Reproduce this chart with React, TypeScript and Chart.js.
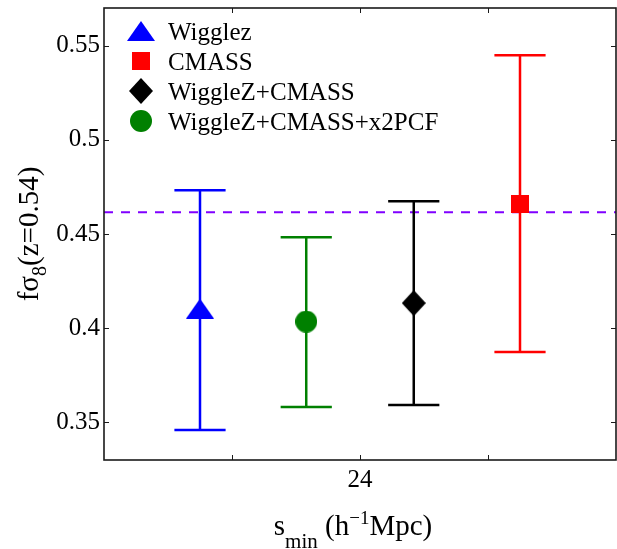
import React, { useEffect, useRef } from 'react';
import { Chart, registerables } from 'chart.js';

Chart.register(...registerables);

// ---------- data ----------
const SERIES_NAMES = ['Wigglez', 'CMASS', 'WiggleZ+CMASS', 'WiggleZ+CMASS+x2PCF'];
const SERIES_X = [22.75, 25.25, 24.42, 23.58];
const SERIES_Y = [0.4104, 0.4661, 0.4133, 0.4035];
const SERIES_LOW = [0.3459, 0.3873, 0.3592, 0.3581];
const SERIES_HIGH = [0.4732, 0.5449, 0.4674, 0.4483];
const SERIES_COLORS = ['#0000ff', '#ff0000', '#000000', '#008000'];
const SERIES_MARKERS = ['triangle', 'square', 'diamond', 'circle'];
const REF_VALUE = 0.4616;
const X_RANGE = [22, 26];
const Y_RANGE = [0.33, 0.57];
const X_TICKS = [23, 24, 25];
const X_TICK_LABELS = ['', '24', ''];
const Y_TICKS = [0.35, 0.4, 0.45, 0.5, 0.55];
const Y_TICK_LABELS = ['0.35', '0.4', '0.45', '0.5', '0.55'];
const CAP_HALF = 0.2; // in x units

const SERIF = "'Liberation Serif', 'Times New Roman', serif";

function makeMarker(kind: string, color: string): HTMLCanvasElement {
  const c = document.createElement('canvas');
  let w = 22, h = 22;
  if (kind === 'triangle') { w = 28; h = 20; }
  else if (kind === 'square') { w = 18; h = 18; }
  else if (kind === 'diamond') { w = 24; h = 26; }
  c.width = w; c.height = h;
  const ctx = c.getContext('2d')!;
  ctx.fillStyle = color;
  ctx.beginPath();
  if (kind === 'triangle') {
    ctx.moveTo(w / 2, 0); ctx.lineTo(w, h); ctx.lineTo(0, h); ctx.closePath();
  } else if (kind === 'square') {
    ctx.rect(0, 0, w, h);
  } else if (kind === 'diamond') {
    ctx.moveTo(w / 2, 0); ctx.lineTo(w, h / 2); ctx.lineTo(w / 2, h); ctx.lineTo(0, h / 2); ctx.closePath();
  } else {
    ctx.arc(w / 2, h / 2, w / 2, 0, Math.PI * 2);
  }
  ctx.fill();
  return c;
}

function drawRich(ctx: CanvasRenderingContext2D, parts: { t: string; size: number; dy: number }[], x0: number, y0: number) {
  let total = 0;
  for (const p of parts) { ctx.font = `${p.size}px ${SERIF}`; total += ctx.measureText(p.t).width; }
  let x = x0 - total / 2;
  for (const p of parts) {
    ctx.font = `${p.size}px ${SERIF}`;
    ctx.fillText(p.t, x, y0 + p.dy);
    x += ctx.measureText(p.t).width;
  }
}

function zeroPadding(s: any) {
  s.paddingTop = 0;
  s.paddingBottom = 0;
  s.paddingLeft = 0;
  s.paddingRight = 0;
}

export default function App() {
  const ref = useRef<HTMLCanvasElement | null>(null);
  useEffect(() => {
    if (!ref.current) return;
    const markers = SERIES_MARKERS.map((m, i) => makeMarker(m, SERIES_COLORS[i]));
    const LINE_INDEX = SERIES_NAMES.length;

    const scatterSets = SERIES_NAMES.map((name, i) => ({
      type: 'scatter' as const,
      label: name,
      data: [{ x: SERIES_X[i], y: SERIES_Y[i] }],
      pointStyle: markers[i] as any,
      pointRadius: 10,
      borderColor: SERIES_COLORS[i],
      backgroundColor: SERIES_COLORS[i],
    }));
    const refSet = {
      type: 'line' as const,
      label: 'ref',
      data: [{ x: X_RANGE[0], y: REF_VALUE }, { x: X_RANGE[1], y: REF_VALUE }],
      borderColor: 'rgb(128,0,255)',
      borderWidth: 2,
      borderDash: [9, 8],
      pointRadius: 0,
      fill: false,
    };

    const errorBars = {
      id: 'errorBars',
      afterDatasetDraw(chart: any, args: any) {
        if (args.index !== LINE_INDEX) return;
        const ctx = chart.ctx as CanvasRenderingContext2D;
        const xs = chart.scales.x, ys = chart.scales.y;
        ctx.save();
        ctx.lineWidth = 2.5;
        ctx.lineCap = 'butt';
        for (let i = 0; i < SERIES_NAMES.length; i++) {
          const x = xs.getPixelForValue(SERIES_X[i]);
          const xl = xs.getPixelForValue(SERIES_X[i] - CAP_HALF);
          const xr = xs.getPixelForValue(SERIES_X[i] + CAP_HALF);
          const yl = ys.getPixelForValue(SERIES_LOW[i]);
          const yh = ys.getPixelForValue(SERIES_HIGH[i]);
          ctx.strokeStyle = SERIES_COLORS[i];
          ctx.beginPath();
          ctx.moveTo(x, yl); ctx.lineTo(x, yh);
          ctx.moveTo(xl, yl); ctx.lineTo(xr, yl);
          ctx.moveTo(xl, yh); ctx.lineTo(xr, yh);
          ctx.stroke();
        }
        ctx.restore();
      },
    };

    const frame = {
      id: 'frame',
      afterDraw(chart: any) {
        const ctx = chart.ctx as CanvasRenderingContext2D;
        const a = chart.chartArea;
        const xs = chart.scales.x, ys = chart.scales.y;
        ctx.save();
        ctx.strokeStyle = '#1a1a1a';
        ctx.lineWidth = 1;
        const tl = 5;
        ctx.beginPath();
        for (const v of X_TICKS) {
          const px = Math.round(xs.getPixelForValue(v)) + 0.5;
          ctx.moveTo(px, a.bottom); ctx.lineTo(px, a.bottom - tl);
          ctx.moveTo(px, a.top); ctx.lineTo(px, a.top + tl);
        }
        for (const v of Y_TICKS) {
          const py = Math.round(ys.getPixelForValue(v)) + 0.5;
          ctx.moveTo(a.left, py); ctx.lineTo(a.left + tl, py);
          ctx.moveTo(a.right, py); ctx.lineTo(a.right - tl, py);
        }
        ctx.stroke();
        ctx.lineWidth = 1.6;
        ctx.strokeRect(a.left, a.top, a.right - a.left, a.bottom - a.top);

        // legend
        ctx.textAlign = 'left';
        ctx.textBaseline = 'alphabetic';
        ctx.font = `25px ${SERIF}`;
        for (let i = 0; i < SERIES_NAMES.length; i++) {
          const rowY = a.top + 23 + i * 30;
          const m = markers[i];
          ctx.drawImage(m, 141 - m.width / 2, rowY - m.height / 2);
          ctx.fillStyle = '#000';
          ctx.fillText(SERIES_NAMES[i], 168, rowY + 8.7);
        }

        // x title
        ctx.fillStyle = '#000';
        drawRich(ctx, [
          { t: 's', size: 29, dy: 0 },
          { t: 'min', size: 21, dy: 13 },
          { t: ' (h', size: 29, dy: 0 },
          { t: '\u22121', size: 19, dy: -11 },
          { t: 'Mpc)', size: 29, dy: 0 },
        ], (a.left + a.right) / 2 - 7, 535);

        // y title (rotated)
        ctx.save();
        ctx.translate(38, 234);
        ctx.rotate(-Math.PI / 2);
        drawRich(ctx, [
          { t: 'f\u03c3', size: 29, dy: 0 },
          { t: '8', size: 20, dy: 8 },
          { t: '(z=0.54)', size: 29, dy: 0 },
        ], 0, 0);
        ctx.restore();
        ctx.restore();
      },
    };

    const chart = new Chart(ref.current, {
      type: 'scatter',
      data: { datasets: [...scatterSets, refSet] as any },
      options: {
        animation: false,
        responsive: false,
        devicePixelRatio: 1,
        layout: { autoPadding: false, padding: { top: 8, right: 1, left: 0, bottom: 0 } },
        plugins: { legend: { display: false }, tooltip: { enabled: false }, title: { display: false } },
        scales: {
          x: {
            type: 'linear',
            min: X_RANGE[0],
            max: X_RANGE[1],
            afterBuildTicks: (s: any) => { s.ticks = X_TICKS.map((v) => ({ value: v })); },
            afterFit: (s: any) => { s.height = 89; zeroPadding(s); },
            grid: { display: false, drawTicks: false },
            border: { display: false },
            ticks: {
              autoSkip: false,
              maxRotation: 0,
              padding: 5,
              color: '#000',
              font: { family: SERIF, size: 25 },
              callback: (v: any) => {
                const i = X_TICKS.findIndex((t) => Math.abs(t - Number(v)) < 1e-9);
                return i >= 0 ? X_TICK_LABELS[i] : '';
              },
            },
          },
          y: {
            type: 'linear',
            min: Y_RANGE[0],
            max: Y_RANGE[1],
            afterBuildTicks: (s: any) => { s.ticks = Y_TICKS.map((v) => ({ value: v })); },
            afterFit: (s: any) => { s.width = 104; zeroPadding(s); },
            grid: { display: false, drawTicks: false },
            border: { display: false },
            ticks: {
              padding: 4,
              color: '#000',
              font: { family: SERIF, size: 25 },
              callback: (v: any) => {
                const i = Y_TICKS.findIndex((t) => Math.abs(t - Number(v)) < 1e-9);
                return i >= 0 ? Y_TICK_LABELS[i] : '';
              },
            },
          },
        },
      },
      plugins: [errorBars, frame],
    });
    return () => chart.destroy();
  }, []);

  return (
    <div style={{ position: 'fixed', left: 0, top: 0, width: 617, height: 549, background: '#fff' }}>
      <canvas ref={ref} width={617} height={549} style={{ display: 'block', width: 617, height: 549 }} />
    </div>
  );
}
